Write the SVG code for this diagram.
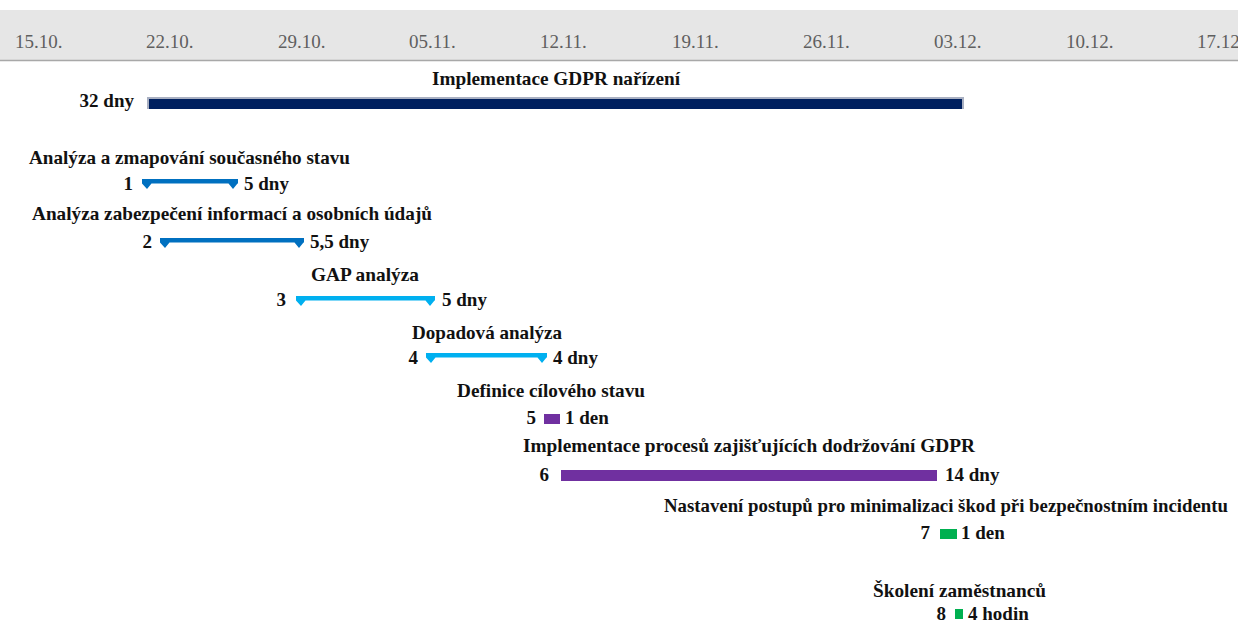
<svg xmlns="http://www.w3.org/2000/svg" width="1238" height="622" viewBox="0 0 1238 622" font-family="Liberation Serif">
  <defs>
    <style>
      .date { font-family: 'Liberation Serif', serif; font-size: 19px; fill: #5f5f5f; }
      .lbl { font-family: 'Liberation Serif', serif; font-size: 19px; font-weight: bold; fill: #111111; }
      .num { font-family: 'Liberation Serif', serif; font-size: 19px; font-weight: bold; fill: #111111; }
      .blue { fill: #0070c0; }
      .cyan { fill: #00b0f0; }
      .purple { fill: #7030a0; }
      .green { fill: #00b050; }
    </style>
  </defs>
  <rect width="1238" height="622" fill="#ffffff"/>

  <!-- timescale header -->
  <g id="timescale">
    <rect x="0" y="10" width="1238" height="50" fill="#e6e6e6"/>
    <line x1="0" y1="60.5" x2="1238" y2="60.5" stroke="#a8a8a8" stroke-width="1.5"/>
    <text class="date" x="15" y="48">15.10.</text>
    <text class="date" x="146" y="48">22.10.</text>
    <text class="date" x="278" y="48">29.10.</text>
    <text class="date" x="409" y="48">05.11.</text>
    <text class="date" x="540" y="48">12.11.</text>
    <text class="date" x="672" y="48">19.11.</text>
    <text class="date" x="803" y="48">26.11.</text>
    <text class="date" x="934" y="48">03.12.</text>
    <text class="date" x="1066" y="48">10.12.</text>
    <text class="date" x="1197" y="48">17.12</text>
  </g>

  <!-- project summary bar -->
  <g id="project">
    <text class="lbl" x="556" y="85" text-anchor="middle" textLength="248" lengthAdjust="spacingAndGlyphs">Implementace GDPR nařízení</text>
    <text class="num" x="134" y="107" text-anchor="end">32 dny</text>
    <rect x="147" y="97" width="817" height="12" fill="#a9b0c2"/>
    <rect x="149" y="99" width="813" height="10" fill="#00205f"/>
  </g>

  <!-- summary-style bars: thin stripe with down-pointing end caps -->
  <g id="task1">
    <text class="lbl" x="189.5" y="164" text-anchor="middle" textLength="321" lengthAdjust="spacingAndGlyphs">Analýza a zmapování současného stavu</text>
    <text class="num" x="133" y="190" text-anchor="end">1</text>
    <path class="blue" d="M142 179H238V183.5H237.5L233 189L228.5 183.5H151.5L147 189L142 183.5Z"/>
    <text class="num" x="244" y="190">5 dny</text>
  </g>

  <g id="task2">
    <text class="lbl" x="232" y="220" text-anchor="middle" textLength="400" lengthAdjust="spacingAndGlyphs">Analýza zabezpečení informací a osobních údajů</text>
    <text class="num" x="152" y="248" text-anchor="end">2</text>
    <path class="blue" d="M160 238H304V242.5H303.5L299 248L294.5 242.5H169.5L165 248L160 242.5Z"/>
    <text class="num" x="310" y="248">5,5 dny</text>
  </g>

  <g id="task3">
    <text class="lbl" x="365" y="281" text-anchor="middle" textLength="108" lengthAdjust="spacingAndGlyphs">GAP analýza</text>
    <text class="num" x="286" y="306" text-anchor="end">3</text>
    <path class="cyan" d="M296 296H435V300.5H434.5L430 306L425.5 300.5H305.5L301 306L296 300.5Z"/>
    <text class="num" x="442" y="306">5 dny</text>
  </g>

  <g id="task4">
    <text class="lbl" x="487" y="339" text-anchor="middle" textLength="150" lengthAdjust="spacingAndGlyphs">Dopadová analýza</text>
    <text class="num" x="418" y="364" text-anchor="end">4</text>
    <path class="cyan" d="M426 353H547V357.5H546.5L542 363L537.5 357.5H435.5L431 363L426 357.5Z"/>
    <text class="num" x="553" y="364">4 dny</text>
  </g>

  <!-- plain task bars -->
  <g id="task5">
    <text class="lbl" x="551" y="397" text-anchor="middle" textLength="188" lengthAdjust="spacingAndGlyphs">Definice cílového stavu</text>
    <text class="num" x="536" y="424" text-anchor="end">5</text>
    <rect class="purple" x="544" y="414" width="16" height="10"/>
    <text class="num" x="565" y="424">1 den</text>
  </g>

  <g id="task6">
    <text class="lbl" x="749" y="452" text-anchor="middle" textLength="452" lengthAdjust="spacingAndGlyphs">Implementace procesů zajišťujících dodržování GDPR</text>
    <text class="num" x="549" y="481" text-anchor="end">6</text>
    <rect class="purple" x="561" y="470" width="376" height="11"/>
    <text class="num" x="945" y="481">14 dny</text>
  </g>

  <g id="task7">
    <text class="lbl" x="946" y="512" text-anchor="middle" textLength="564" lengthAdjust="spacingAndGlyphs">Nastavení postupů pro minimalizaci škod při bezpečnostním incidentu</text>
    <text class="num" x="930" y="539" text-anchor="end">7</text>
    <rect class="green" x="940" y="529" width="17" height="10"/>
    <text class="num" x="961" y="539">1 den</text>
  </g>

  <g id="task8">
    <text class="lbl" x="959.5" y="597" text-anchor="middle" textLength="173" lengthAdjust="spacingAndGlyphs">Školení zaměstnanců</text>
    <text class="num" x="946" y="620" text-anchor="end">8</text>
    <rect class="green" x="955" y="609" width="8" height="10"/>
    <text class="num" x="968" y="620">4 hodin</text>
  </g>

  <!-- no connectors between bars -->
  <g id="connectors"/>
</svg>
